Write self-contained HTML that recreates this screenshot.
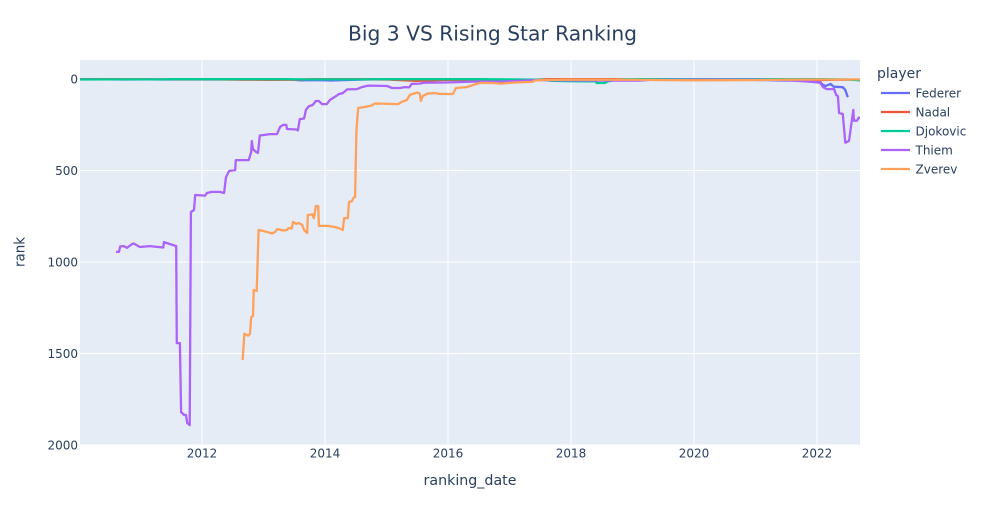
<!DOCTYPE html>
<html lang="en">
<head>
<meta charset="utf-8">
<title>Big 3 VS Rising Star Ranking</title>
<style>
html,body{margin:0;padding:0;background:#fff;}
svg{display:block;font-family:"DejaVu Sans","Liberation Sans",sans-serif;}
</style>
</head>
<body>
<svg id="chart" width="985" height="525" viewBox="0 0 985 525" xmlns="http://www.w3.org/2000/svg">
  <defs><clipPath id="plot-clip"><rect x="80" y="60" width="780" height="385"></rect></clipPath></defs>
  <rect x="0" y="0" width="985" height="525" fill="#fff"></rect>
  <rect x="80" y="60" width="780" height="385" fill="#e5ecf6"></rect>
  <g id="grid"></g>
  <g id="series" clip-path="url(#plot-clip)"></g>
  <g id="x-ticks"></g>
  <g id="y-ticks"></g>
  <text x="492.5" y="40.5" text-anchor="middle" font-size="20" textLength="289" lengthAdjust="spacingAndGlyphs" fill="#2a3f5f">Big 3 VS Rising Star Ranking</text>
  <text x="470" y="485" text-anchor="middle" font-size="14" textLength="93" lengthAdjust="spacingAndGlyphs" fill="#2a3f5f">ranking_date</text>
  <text x="0" y="0" transform="translate(24.5 252) rotate(-90)" text-anchor="middle" font-size="14" textLength="30" lengthAdjust="spacingAndGlyphs" fill="#2a3f5f">rank</text>
  <text x="877" y="78" font-size="14" textLength="44" lengthAdjust="spacingAndGlyphs" fill="#2a3f5f">player</text>
  <g id="legend"></g>
</svg>
<script>
const xTickLabels = [2012, 2014, 2016, 2018, 2020, 2022];
const yTickLabels = [0, 500, 1000, 1500, 2000];
const playerNames = ['Federer', 'Nadal', 'Djokovic', 'Thiem', 'Zverev'];

const federerDates = [2010.02,2010.40,2010.45,2010.70,2011.10,2011.35,2011.85,2012.20,2012.50,2012.75,2013.30,2013.45,2013.60,2013.85,2014.10,2014.50,2014.80,2015.50,2016.10,2016.50,2016.95,2017.10,2017.40,2017.60,2018.10,2018.50,2018.90,2019.40,2020.10,2020.90,2021.40,2021.70,2021.95,2022.05,2022.10,2022.14,2022.22,2022.27,2022.42,2022.46,2022.50];
const federerRanks = [1,1,2,3,2,3,3,3,1,2,2,3,7,6,8,4,2,2,3,3,16,10,5,3,2,1,3,3,3,4,8,9,16,16,33,38,27,42,45,60,100];

const nadalDates = [2010.02,2010.45,2011.50,2012.20,2012.70,2013.10,2013.50,2013.80,2014.50,2015.00,2015.30,2015.50,2016.00,2016.60,2017.00,2017.40,2017.65,2018.50,2019.50,2020.50,2021.00,2021.60,2022.00,2022.30,2022.70];
const nadalRanks = [2,1,2,2,4,5,4,1,1,3,7,10,5,5,9,4,1,1,2,2,3,5,6,4,3];

const djokovicDates = [2010.02,2010.50,2011.40,2011.50,2012.80,2013.30,2013.70,2014.50,2015.00,2016.50,2017.10,2017.50,2017.70,2018.00,2018.30,2018.40,2018.42,2018.55,2018.60,2018.75,2018.85,2019.50,2020.50,2021.50,2022.10,2022.40,2022.50,2022.70];
const djokovicRanks = [3,2,2,1,1,1,2,2,1,1,2,4,10,12,13,13,22,22,13,5,1,1,1,1,1,2,3,7];

const thiemDates = [2010.60,2010.65,2010.67,2010.73,2010.78,2010.86,2010.89,2010.99,2011.15,2011.37,2011.38,2011.58,2011.59,2011.64,2011.66,2011.71,2011.74,2011.76,2011.80,2011.82,2011.87,2011.89,2012.05,2012.08,2012.16,2012.29,2012.36,2012.39,2012.44,2012.54,2012.55,2012.76,2012.80,2012.81,2012.83,2012.88,2012.91,2012.94,2013.11,2013.22,2013.27,2013.32,2013.37,2013.38,2013.54,2013.56,2013.59,2013.66,2013.69,2013.74,2013.80,2013.85,2013.90,2013.95,2014.03,2014.08,2014.16,2014.23,2014.29,2014.36,2014.52,2014.60,2014.70,2015.01,2015.09,2015.22,2015.30,2015.37,2015.41,2015.54,2015.61,2015.95,2016.41,2016.85,2017.41,2018.00,2018.60,2019.10,2019.30,2020.20,2021.00,2021.50,2021.90,2022.05,2022.10,2022.16,2022.28,2022.31,2022.34,2022.36,2022.42,2022.46,2022.52,2022.59,2022.60,2022.65,2022.68,2022.70];
const thiemRanks = [945,945,915,913,923,902,899,918,913,921,891,913,1443,1443,1820,1836,1836,1880,1891,727,716,634,637,623,617,617,623,536,503,497,443,443,399,339,383,399,404,309,301,301,262,251,251,273,276,281,219,216,169,148,142,120,120,137,137,115,98,82,77,57,55,44,36,38,49,49,44,46,27,25,20,19,14,14,6,7,9,9,5,3,4,6,15,20,45,55,55,87,93,186,191,348,339,169,228,228,211,214];

const zverevDates = [2012.66,2012.69,2012.75,2012.78,2012.80,2012.83,2012.84,2012.89,2012.92,2013.01,2013.14,2013.19,2013.22,2013.32,2013.38,2013.41,2013.46,2013.48,2013.53,2013.58,2013.63,2013.66,2013.71,2013.72,2013.79,2013.82,2013.85,2013.89,2013.90,2014.05,2014.16,2014.24,2014.29,2014.31,2014.37,2014.39,2014.44,2014.46,2014.49,2014.50,2014.51,2014.54,2014.65,2014.76,2014.81,2015.19,2015.24,2015.33,2015.38,2015.50,2015.54,2015.56,2015.59,2015.67,2015.79,2015.87,2016.08,2016.13,2016.31,2016.46,2016.52,2016.73,2016.85,2017.09,2017.37,2017.41,2017.66,2018.00,2018.50,2019.00,2019.50,2020.00,2021.00,2021.50,2022.00,2022.40,2022.70];
const zverevRanks = [1536,1391,1402,1393,1301,1295,1153,1158,825,831,844,836,820,828,825,814,817,781,792,787,798,825,842,743,740,760,694,694,803,803,809,817,825,760,760,672,667,650,645,443,284,158,153,145,134,137,126,115,87,74,79,120,93,79,77,82,82,49,44,27,22,22,25,19,16,8,5,4,4,4,6,7,6,4,3,3,2];

const NS = 'http://www.w3.org/2000/svg';
const plotLeft = 80, plotRight = 860, plotTop = 60, plotBottom = 445;
function xScale(year) { return 202 + (year - 2012) * 61.5; }
function yScale(rank) { return 79 + rank * 0.183; }

const gridGroup = document.getElementById('grid');
const xTickGroup = document.getElementById('x-ticks');
const yTickGroup = document.getElementById('y-ticks');
const seriesGroup = document.getElementById('series');
const legendGroup = document.getElementById('legend');

function makeSvg(tag, attrs, parent) {
  const el = document.createElementNS(NS, tag);
  for (const key in attrs) el.setAttribute(key, attrs[key]);
  parent.appendChild(el);
  return el;
}

xTickLabels.forEach(function (label) {
  const x = xScale(label);
  const line = makeSvg('line', { x1: x, x2: x, y1: plotTop, y2: plotBottom, stroke: '#fff', 'stroke-width': 1 }, gridGroup);
  
  
  const text = makeSvg('text', { x: x, y: 457.5, 'text-anchor': 'middle', 'font-size': 12, fill: '#2a3f5f' }, xTickGroup);
  
  
  text.textContent = label;
});

yTickLabels.forEach(function (label) {
  const y = yScale(label);
  const line = makeSvg('line', { x1: plotLeft, x2: plotRight, y1: y, y2: y, stroke: '#fff', 'stroke-width': label === 0 ? 2 : 1 }, gridGroup);
  
  
  const text = makeSvg('text', { x: 78, y: y + 4.5, 'text-anchor': 'end', 'font-size': 12, fill: '#2a3f5f' }, yTickGroup);
  
  
  text.textContent = label;
});

const seriesDates = [federerDates, nadalDates, djokovicDates, thiemDates, zverevDates];
const seriesRanks = [federerRanks, nadalRanks, djokovicRanks, thiemRanks, zverevRanks];
const seriesColors = ['#636efa', '#ef553b', '#00cc96', '#ab63fa', '#ffa15a'];

playerNames.forEach(function (name, i) {
  const pts = seriesDates[i].map(function (d, j) {
    return xScale(d).toFixed(1) + ',' + yScale(seriesRanks[i][j]).toFixed(1);
  }).join(' ');
  const line = makeSvg('polyline', { points: pts, fill: 'none', stroke: seriesColors[i], 'stroke-width': 2.3, 'stroke-linejoin': 'round' }, seriesGroup);
  
  

  const rowY = 93 + i * 19;
  const entry = makeSvg('g', {}, legendGroup);
  
  
  makeSvg('line', { x1: 881, x2: 910, y1: rowY, y2: rowY, stroke: seriesColors[i], 'stroke-width': 2.3 }, entry);
  const label = makeSvg('text', { x: 915.5, y: rowY + 4.5, 'font-size': 12, fill: '#2a3f5f' }, entry);
  label.textContent = name;
});
</script>
</body>
</html>
